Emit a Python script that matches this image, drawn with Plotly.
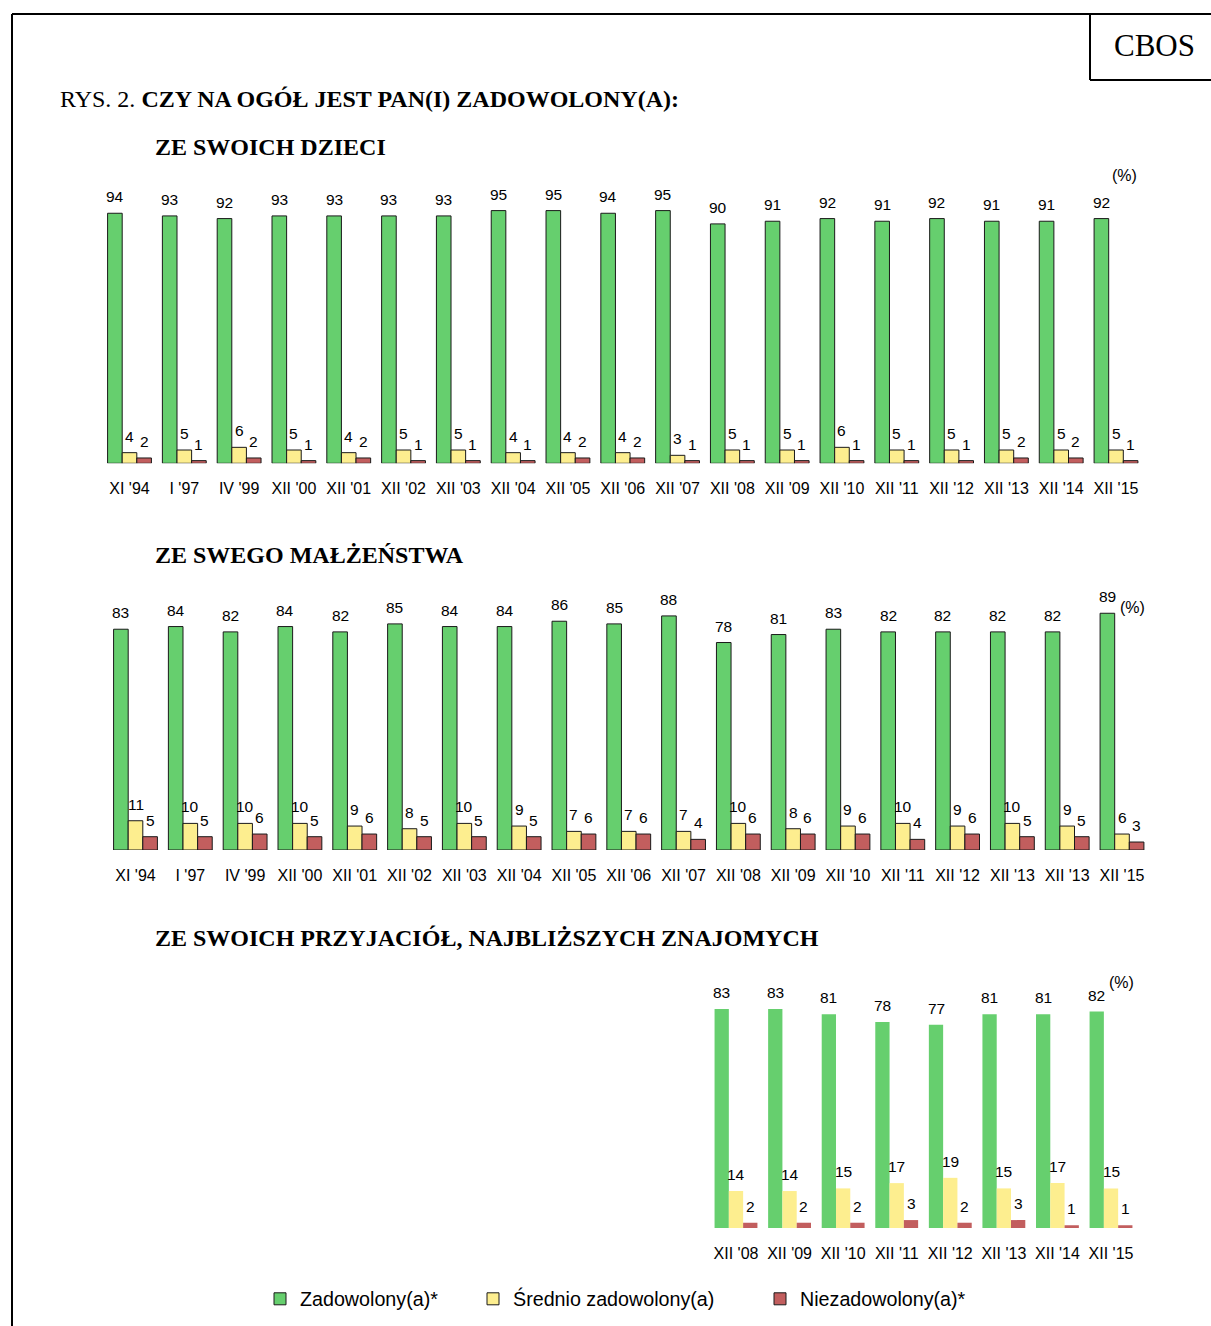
import plotly.graph_objects as go

W, H = 1211, 1326

# ---------------- data ----------------
cats1 = ["XI '94", "I '97", "IV '99", "XII '00", "XII '01", "XII '02", "XII '03", "XII '04",
         "XII '05", "XII '06", "XII '07", "XII '08", "XII '09", "XII '10", "XII '11", "XII '12",
         "XII '13", "XII '14", "XII '15"]
zad1 = [94, 93, 92, 93, 93, 93, 93, 95, 95, 94, 95, 90, 91, 92, 91, 92, 91, 91, 92]
sre1 = [4, 5, 6, 5, 4, 5, 5, 4, 4, 4, 3, 5, 5, 6, 5, 5, 5, 5, 5]
nie1 = [2, 1, 2, 1, 2, 1, 1, 1, 2, 2, 1, 1, 1, 1, 1, 1, 2, 2, 1]

cats2 = ["XI '94", "I '97", "IV '99", "XII '00", "XII '01", "XII '02", "XII '03", "XII '04",
         "XII '05", "XII '06", "XII '07", "XII '08", "XII '09", "XII '10", "XII '11", "XII '12",
         "XII '13", "XII '13", "XII '15"]
zad2 = [83, 84, 82, 84, 82, 85, 84, 84, 86, 85, 88, 78, 81, 83, 82, 82, 82, 82, 89]
sre2 = [11, 10, 10, 10, 9, 8, 10, 9, 7, 7, 7, 10, 8, 9, 10, 9, 10, 9, 6]
nie2 = [5, 5, 6, 5, 6, 5, 5, 5, 6, 6, 4, 6, 6, 6, 4, 6, 5, 5, 3]

cats3 = ["XII '08", "XII '09", "XII '10", "XII '11", "XII '12", "XII '13", "XII '14", "XII '15"]
zad3 = [83, 83, 81, 78, 77, 81, 81, 82]
sre3 = [14, 14, 15, 17, 19, 15, 17, 15]
nie3 = [2, 2, 2, 3, 2, 3, 1, 1]

series_names = ["Zadowolony(a)*", "Średnio zadowolony(a)", "Niezadowolony(a)*"]
colors = ["#66CF6E", "#FDEE8F", "#C25E5E"]

# ---------------- layout geometry (pixels) ----------------
def px_x(p):
    return p / W

def px_y(p):
    return 1 - p / H

panels = [
    dict(cats=cats1, vals=[zad1, sre1, nie1], xdom=(102.1, 1143.4), ydom=(463.3, 197.3), outline=True),
    dict(cats=cats2, vals=[zad2, sre2, nie2], xdom=(108.1, 1149.4), ydom=(850, 584), outline=True),
    dict(cats=cats3, vals=[zad3, sre3, nie3], xdom=(709.2, 1137.8), ydom=(1228, 964), outline=False),
]

fig = go.Figure()
annotations = []
BARGAP = 0.2
nser = 3
bw = (1 - BARGAP) / nser

for pi, p in enumerate(panels):
    ax = "" if pi == 0 else str(pi + 1)
    xs = list(range(len(p["cats"])))
    for si in range(nser):
        fig.add_trace(go.Bar(
            x=xs, y=p["vals"][si], name=series_names[si],
            marker=dict(color=colors[si],
                        line=dict(color="#1a1a1a" if p["outline"] else colors[si],
                                  width=1 if p["outline"] else 0)),
            xaxis="x" + ax, yaxis="y" + ax,
            showlegend=(pi == 0),
            legend=["legend", "legend2", "legend3"][si],
            hoverinfo="skip",
        ))
        off = (si - (nser - 1) / 2) * bw
        for xi, v in zip(xs, p["vals"][si]):
            annotations.append(dict(
                x=xi + off, y=v, xref="x" + ax, yref="y" + ax,
                text=str(v), showarrow=False, yanchor="bottom", yshift=6,
                font=dict(family="Liberation Sans, Arial", size=15.5, color="black"),
            ))
    fig.layout["xaxis" + ax] = dict(
        domain=[px_x(p["xdom"][0]), px_x(p["xdom"][1])],
        anchor="y" + ax, range=[-0.5, len(p["cats"]) - 0.5],
        tickmode="array", tickvals=xs, ticktext=p["cats"],
        showgrid=False, zeroline=False, showline=False, ticks="",
        ticklabelstandoff=14,
        tickfont=dict(family="Liberation Sans, Arial", size=16, color="black"),
        fixedrange=True,
    )
    fig.layout["yaxis" + ax] = dict(
        domain=[px_y(p["ydom"][0]), px_y(p["ydom"][1])],
        anchor="x" + ax, range=[0, 100], visible=False, fixedrange=True,
    )

# titles and texts
serif = "Liberation Serif, Times New Roman, serif"
sans = "Liberation Sans, Arial, sans-serif"

def text_px(x, y, txt, size, family, xanchor="left"):
    annotations.append(dict(
        x=px_x(x), y=px_y(y), xref="paper", yref="paper", text=txt, showarrow=False,
        xanchor=xanchor, yanchor="middle", font=dict(family=family, size=size, color="black"),
    ))

text_px(58, 99, "RYS. 2. <b>CZY NA OGÓŁ JEST PAN(I) ZADOWOLONY(A):</b>", 24, serif)
text_px(153, 147, "<b>ZE SWOICH DZIECI</b>", 24, serif)
text_px(153, 555, "<b>ZE SWEGO MAŁŻEŃSTWA</b>", 24, serif)
text_px(153, 938, "<b>ZE SWOICH PRZYJACIÓŁ, NAJBLIŻSZYCH ZNAJOMYCH</b>", 24, serif)
text_px(1154, 46, "CBOS", 31, serif, xanchor="center")
text_px(1124, 176, "(%)", 16, sans, xanchor="center")
text_px(1132, 608, "(%)", 16, sans, xanchor="center")
text_px(1121, 982, "(%)", 16, sans, xanchor="center")

# frame lines
shapes = []
def line_px(x0, y0, x1, y1):
    shapes.append(dict(type="line", xref="paper", yref="paper",
                       x0=px_x(x0), y0=px_y(y0), x1=px_x(x1), y1=px_y(y1),
                       line=dict(color="black", width=2)))

line_px(12, 14, W + 5, 14)
line_px(12, 14, 12, H + 5)
line_px(1090, 14, 1090, 80)
line_px(1090, 80, W + 5, 80)

leg_common = dict(orientation="h", yanchor="middle", xanchor="left",
                  font=dict(family=sans, size=19.7, color="black"),
                  bgcolor="rgba(0,0,0,0)", itemclick=False, itemdoubleclick=False)

fig.update_layout(
    width=W, height=H,
    margin=dict(l=0, r=0, t=0, b=0),
    paper_bgcolor="white", plot_bgcolor="white",
    barmode="group", bargap=BARGAP, bargroupgap=0,
    annotations=annotations, shapes=shapes,
    legend=dict(x=px_x(260), y=px_y(1299), **leg_common),
    legend2=dict(x=px_x(473), y=px_y(1299), **leg_common),
    legend3=dict(x=px_x(760), y=px_y(1299), **leg_common),
)

fig.write_html("out.html", config={"displayModeBar": False},
               post_script="document.body.style.margin='0';document.body.style.overflow='hidden';")
